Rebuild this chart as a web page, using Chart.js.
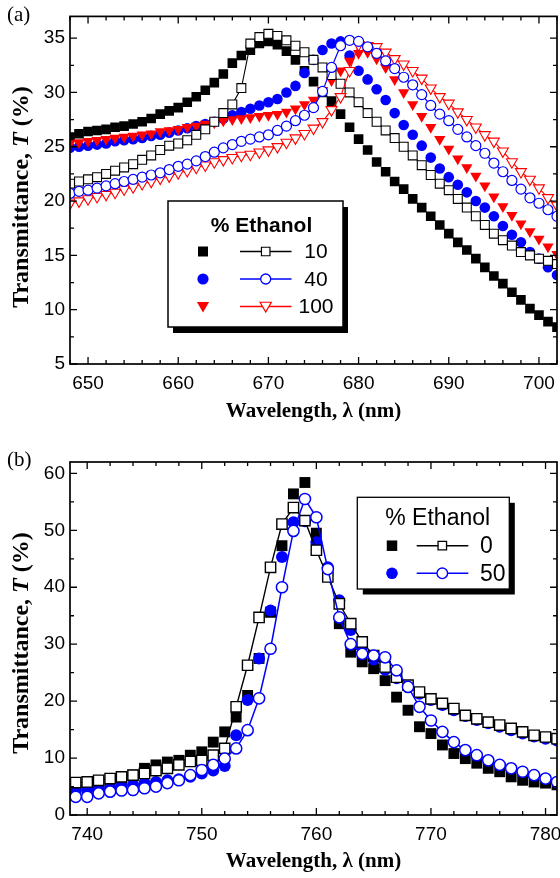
<!DOCTYPE html>
<html><head><meta charset="utf-8">
<script src="https://cdn.jsdelivr.net/npm/chart.js@4.4.1/dist/chart.umd.min.js"></script>
<style>
html,body{margin:0;padding:0;background:#fff;}
#wrap{position:relative;width:560px;height:878px;overflow:hidden;background:#fff;}
canvas{position:absolute;left:0;}
#ca{top:0;width:590px;height:430px;}
#cb{top:430px;width:590px;height:448px;}
</style></head><body>
<div id="wrap"><canvas id="ca" width="590" height="430"></canvas><canvas id="cb" width="590" height="448"></canvas></div>
<script>
// ---------- Panel (a) data ----------
const LAMBDA_A = [648,649,650,651,652,653,654,655,656,657,658,659,660,661,662,663,664,665,666,667,668,669,670,671,672,673,674,675,676,677,678,679,680,681,682,683,684,685,686,687,688,689,690,691,692,693,694,695,696,697,698,699,700,701,702];
const T_A_10_FILLED = [25.9,26.2,26.4,26.5,26.6,26.8,26.9,27.1,27.3,27.6,28.0,28.3,28.6,29.1,29.6,30.2,30.9,31.7,32.7,33.4,33.9,34.5,34.7,34.4,33.8,33.0,32.0,31.0,30.0,29.2,28.0,26.8,25.7,24.7,23.6,22.7,21.8,21.1,20.2,19.4,18.6,17.8,17.0,16.2,15.5,14.7,13.9,13.1,12.4,11.6,10.9,10.1,9.5,8.9,8.4];
const T_A_10_OPEN = [21.6,21.8,22.0,22.2,22.5,22.8,23.1,23.4,23.8,24.2,24.7,25.1,25.3,25.6,26.1,26.6,27.3,28.1,28.9,30.4,34.5,35.1,35.4,35.2,34.8,34.3,33.7,33.0,32.3,31.6,30.8,30.0,29.1,28.1,27.3,26.5,25.8,25.0,24.2,23.3,22.4,21.6,21.0,20.2,19.4,18.6,17.8,17.0,16.4,15.9,15.3,15.0,14.7,14.5,14.2];
const T_A_40_FILLED = [24.9,25.0,25.1,25.2,25.3,25.5,25.6,25.7,25.8,26.0,26.1,26.3,26.5,26.7,26.9,27.1,27.3,27.6,27.9,28.2,28.5,28.8,29.1,29.4,30.0,30.6,31.8,33.0,33.9,34.5,34.7,33.4,32.0,31.2,30.3,29.3,28.1,27.0,26.1,25.1,24.0,23.0,22.2,21.5,20.8,20.0,19.4,18.6,17.7,16.9,16.2,15.3,14.7,13.9,13.2];
const T_A_40_OPEN = [20.7,20.9,21.0,21.2,21.4,21.6,21.8,22.0,22.2,22.4,22.6,22.9,23.2,23.4,23.7,24.1,24.5,24.9,25.2,25.5,25.7,25.9,26.1,26.5,26.9,27.4,27.9,28.6,30.1,32.3,34.3,34.8,34.7,34.2,33.6,32.9,32.2,31.4,30.7,29.8,28.8,28.0,27.4,26.6,25.9,25.1,24.4,23.5,22.7,21.9,21.1,20.3,19.8,19.2,18.6];
const T_A_100_FILLED = [25.3,25.4,25.5,25.6,25.7,25.8,25.9,26.0,26.1,26.2,26.4,26.5,26.6,26.8,26.9,27.1,27.2,27.4,27.5,27.6,27.7,27.8,27.9,28.0,28.2,28.5,28.9,29.3,30.2,31.1,32.0,32.9,33.6,33.7,33.1,32.3,31.2,30.0,28.9,27.8,26.8,25.7,24.8,23.9,23.1,22.3,21.4,20.4,19.5,18.7,17.9,17.2,16.5,15.8,15.1];
const T_A_100_OPEN = [19.8,20.0,20.2,20.4,20.6,20.8,21.1,21.3,21.6,21.8,22.1,22.3,22.6,22.8,23.1,23.3,23.6,23.8,24.0,24.2,24.3,24.5,24.7,25.0,25.4,25.8,26.2,26.7,27.3,28.4,29.6,32.0,34.4,34.3,34.2,33.7,33.1,32.6,32.0,31.3,30.4,29.6,29.0,28.2,27.5,26.8,26.1,25.5,24.6,23.6,22.7,22.0,21.2,20.3,19.6];
const X_TICKS_A = [650,660,670,680,690,700];
const Y_TICKS_A = [5,10,15,20,25,30,35];
const LEGEND_A_TITLE = '% Ethanol';
const LEGEND_A_LABELS = ['10','40','100'];

// ---------- Panel (b) data ----------
const LAMBDA_B = [739,740,741,742,743,744,745,746,747,748,749,750,751,752,753,754,755,756,757,758,759,760,761,762,763,764,765,766,767,768,769,770,771,772,773,774,775,776,777,778,779,780,781];
const T_B_0_FILLED = [4.4,4.6,4.8,5.2,5.9,7.0,8.2,8.8,9.3,9.6,10.5,11.1,12.8,14.6,17.2,21.0,27.5,35.6,47.3,56.4,58.4,49.5,42.9,33.6,28.6,26.9,25.7,23.6,20.7,18.4,15.5,14.3,12.3,10.8,9.9,9.1,8.2,7.6,6.7,6.1,5.8,5.6,5.3];
const T_B_0_OPEN = [5.7,5.8,6.1,6.4,6.7,7.0,7.3,7.8,8.2,8.8,9.4,9.6,10.5,11.7,19.0,26.3,34.7,43.5,51.1,54.0,51.7,46.5,41.8,37.1,33.6,30.4,28.0,26.0,24.2,22.8,21.6,20.4,19.6,18.7,17.5,16.9,16.3,15.8,15.2,14.6,14.0,13.7,13.4];
const T_B_50_FILLED = [4.4,4.5,4.6,4.8,5.0,5.3,5.6,5.8,6.1,6.3,6.7,7.3,7.8,8.6,14.0,20.2,27.5,35.9,45.3,51.4,51.6,47.9,43.5,37.7,32.5,29.5,27.3,25.5,24.0,22.5,21.3,20.2,19.3,18.4,17.4,16.7,16.1,15.5,14.9,14.3,13.8,13.4,13.1];
const T_B_50_OPEN = [3.2,3.2,3.8,4.1,4.3,4.4,4.7,5.0,5.6,6.1,7.0,7.9,8.8,9.9,11.7,14.9,20.5,29.2,40.0,49.9,55.5,52.3,43.2,34.7,30.0,28.3,28.0,27.7,25.4,22.5,19.0,16.6,14.6,12.8,11.4,10.5,9.6,8.8,8.2,7.6,7.0,6.4,5.8];
const X_TICKS_B = [740,750,760,770,780];
const Y_TICKS_B = [0,10,20,30,40,50,60];
const LEGEND_B_TITLE = '% Ethanol';
const LEGEND_B_LABELS = ['0','50'];

const Y_TITLE_PARTS = ['Transmittance, ', 'T', ' (%)'];
const X_TITLE = 'Wavelength, \u03bb (nm)';

// ---------- helpers ----------
const BLUE = '#0000ff', RED = '#ff0000', BLACK = '#000000';
const SERIF = '"Liberation Serif", "Times New Roman", serif';
const SANS = '"Liberation Sans", Arial, sans-serif';
function pts(xs, ys){ return xs.map((x,i)=>({x:x, y:ys[i]})); }
function minorList(a, b, step){ const r=[]; for(let v=a; v<=b+1e-9; v+=step) r.push(Math.round(v*100)/100); return r; }

function mSquare(ctx,x,y,s,fill,stroke,lw){ ctx.beginPath(); ctx.rect(x-s/2,y-s/2,s,s); if(fill){ctx.fillStyle=fill;ctx.fill();} if(stroke){ctx.strokeStyle=stroke;ctx.lineWidth=lw;ctx.stroke();} }
function mCircle(ctx,x,y,r,fill,stroke,lw){ ctx.beginPath(); ctx.arc(x,y,r,0,Math.PI*2); if(fill){ctx.fillStyle=fill;ctx.fill();} if(stroke){ctx.strokeStyle=stroke;ctx.lineWidth=lw;ctx.stroke();} }
function mTriDown(ctx,x,y,r,fill,stroke,lw){ ctx.beginPath(); for(let k=0;k<3;k++){ const a=Math.PI+k*2*Math.PI/3; const px=x+Math.sin(a)*r, py=y-Math.cos(a)*r; if(k===0)ctx.moveTo(px,py); else ctx.lineTo(px,py);} ctx.closePath(); if(fill){ctx.fillStyle=fill;ctx.fill();} if(stroke){ctx.strokeStyle=stroke;ctx.lineWidth=lw;ctx.stroke();} }

function drawYTitle(ctx, bx, cy){
  ctx.save(); ctx.translate(bx, cy); ctx.rotate(-Math.PI/2);
  const fonts = ['bold 24px '+SERIF, 'italic bold 24px '+SERIF, 'bold 24px '+SERIF];
  let total = 0;
  Y_TITLE_PARTS.forEach((t,i)=>{ ctx.font=fonts[i]; total += ctx.measureText(t).width; });
  let x = -total/2;
  ctx.fillStyle='#000'; ctx.textAlign='left'; ctx.textBaseline='alphabetic';
  Y_TITLE_PARTS.forEach((t,i)=>{ ctx.font=fonts[i]; ctx.fillText(t, x, 0); x += ctx.measureText(t).width; });
  ctx.restore();
}

const frameTicks = {
  id:'frameTicks',
  afterDatasetsDraw(chart, args, o){
    const ctx = chart.ctx, ca = chart.chartArea, xs = chart.scales.x, ys = chart.scales.y;
    ctx.save();
    ctx.strokeStyle = '#000'; ctx.lineWidth = 1.3;
    ctx.beginPath();
    o.xMinor.forEach(v=>{ if(v<xs.min||v>xs.max) return; const len = o.xMajor.includes(v)?7:4; const p=xs.getPixelForValue(v);
      ctx.moveTo(p,ca.bottom); ctx.lineTo(p,ca.bottom-len); ctx.moveTo(p,ca.top); ctx.lineTo(p,ca.top+len); });
    o.yMinor.forEach(v=>{ if(v<ys.min||v>ys.max) return; const len = o.yMajor.includes(v)?7:4; const p=ys.getPixelForValue(v);
      ctx.moveTo(ca.left,p); ctx.lineTo(ca.left+len,p); ctx.moveTo(ca.right,p); ctx.lineTo(ca.right-len,p); });
    ctx.stroke();
    ctx.lineWidth = 1.7;
    ctx.strokeRect(ca.left, ca.top, ca.right-ca.left, ca.bottom-ca.top);
    ctx.restore();
  },
  afterDraw(chart, args, o){
    const ctx = chart.ctx;
    ctx.save();
    ctx.fillStyle='#000'; ctx.font='21px '+SERIF;
    ctx.textAlign='left'; ctx.textBaseline='middle';
    ctx.fillText(o.panel, 7, o.panelY);
    drawYTitle(ctx, 28, o.yTitleY);
    if (o.legend) o.legend(ctx);
    ctx.restore();
  }
};

function drawLegendA(ctx){
  const L=168, T=201, W=175, H=126;
  ctx.fillStyle='#000'; ctx.fillRect(L+5, T+6, W, H);
  ctx.fillStyle='#fff'; ctx.fillRect(L, T, W, H);
  ctx.strokeStyle='#000'; ctx.lineWidth=1.5; ctx.strokeRect(L, T, W, H);
  ctx.fillStyle='#000'; ctx.font='bold 21px '+SANS;
  ctx.textAlign='center'; ctx.textBaseline='alphabetic';
  ctx.fillText(LEGEND_A_TITLE, 261.5, 231.5);
  const rows=[251.5,279,306.5], cols=[BLACK,BLUE,RED];
  rows.forEach((ry,i)=>{
    ctx.strokeStyle=cols[i]; ctx.lineWidth=1.3; ctx.beginPath(); ctx.moveTo(240,ry); ctx.lineTo(291.5,ry); ctx.stroke();
    if(i===0){ mSquare(ctx,203,ry,10,BLACK,null,0); mSquare(ctx,265.7,ry,8.5,'#fff',BLACK,1.2); }
    if(i===1){ mCircle(ctx,203,ry,5.6,BLUE,null,0); mCircle(ctx,265.7,ry,5,'#fff',BLUE,1.3); }
    if(i===2){ mTriDown(ctx,203,ry-1,7,RED,null,0); mTriDown(ctx,265.7,ry-1,6.5,'#fff',RED,1.2); }
    ctx.fillStyle='#000'; ctx.font='21px '+SANS;
    ctx.textAlign='center'; ctx.textBaseline='middle';
    ctx.fillText(LEGEND_A_LABELS[i], 316, ry+1);
  });
}
function drawLegendB(ctx){
  const L=357.3, T=67.3, W=152, H=91.7;
  ctx.fillStyle='#000'; ctx.fillRect(L+5.5, T+5.5, W, H);
  ctx.fillStyle='#fff'; ctx.fillRect(L, T, W, H);
  ctx.strokeStyle='#000'; ctx.lineWidth=1.3; ctx.strokeRect(L, T, W, H);
  ctx.fillStyle='#000'; ctx.font='23px '+SANS;
  ctx.textAlign='center'; ctx.textBaseline='alphabetic';
  ctx.fillText(LEGEND_B_TITLE, 437.7, 95);
  const rows=[115.7,143.3], cols=[BLACK,BLUE];
  rows.forEach((ry,i)=>{
    ctx.strokeStyle=cols[i]; ctx.lineWidth=1.5; ctx.beginPath(); ctx.moveTo(416.7,ry); ctx.lineTo(468.3,ry); ctx.stroke();
    if(i===0){ mSquare(ctx,392,ry,10.5,BLACK,null,0); mSquare(ctx,442.3,ry,8.5,'#fff',BLACK,1.3); }
    if(i===1){ mCircle(ctx,392,ry,5.8,BLUE,null,0); mCircle(ctx,442.3,ry,5.3,'#fff',BLUE,1.4); }
    ctx.fillStyle='#000'; ctx.font='23px '+SANS;
    ctx.textAlign='left'; ctx.textBaseline='middle';
    ctx.fillText(LEGEND_B_LABELS[i], 480, ry+1);
  });
}

function makeScales(xmin,xmax,ymin,ymax,xt,yt,xH,yW,xTitlePad){
  const tickFont={family:SANS, size:19};
  const titleFont={family:SERIF, size:21, weight:'bold'};
  return {
    x:{type:'linear', min:xmin, max:xmax,
       afterBuildTicks:s=>{ s.ticks = xt.map(v=>({value:v})); },
       afterFit:s=>{ s.height = xH; },
       grid:{display:false, drawTicks:false}, border:{display:false},
       ticks:{font:tickFont, color:'#000', padding:8, maxRotation:0, autoSkip:false, callback:v=>String(v)},
       title:{display:true, text:X_TITLE, font:titleFont, color:'#000', padding:{top:0,bottom:xTitlePad}}},
    y:{type:'linear', min:ymin, max:ymax,
       afterBuildTicks:s=>{ s.ticks = yt.map(v=>({value:v})); },
       afterFit:s=>{ s.width = yW; },
       grid:{display:false, drawTicks:false}, border:{display:false},
       ticks:{font:tickFont, color:'#000', padding:5, autoSkip:false, callback:v=>String(v)},
       title:{display:false}}
  };
}

function ds(label, xs, ys, style, r, fill, col, line, order, rot, bw){
  return {label, data:pts(xs,ys), showLine:line, borderColor:col, borderWidth:line?(bw||1.1):0,
    pointStyle:style, pointRadius:r, pointHoverRadius:r, pointRotation:rot||0,
    pointBackgroundColor:fill, pointBorderColor:col, pointBorderWidth: fill===col?0:(bw||1.1),
    backgroundColor:fill, fill:false, tension:0, order, clip:0};
}

Chart.defaults.font.family=SANS;

// canvases are 590 wide (page clips at 560) so the plot's right edge sits at x=557
new Chart(document.getElementById('ca'), {
  type:'scatter',
  data:{datasets:[
    ds('10 filled', LAMBDA_A, T_A_10_FILLED, 'rect', 6.8, BLACK, BLACK, false, 6),
    ds('40 filled', LAMBDA_A, T_A_40_FILLED, 'circle', 5.3, BLUE, BLUE, false, 5),
    ds('100 filled', LAMBDA_A, T_A_100_FILLED, 'triangle', 6.5, RED, RED, false, 4, 180),
    ds('10 open', LAMBDA_A, T_A_10_OPEN, 'rect', 6.3, '#ffffff', BLACK, true, 3, 0, 1.1),
    ds('100 open', LAMBDA_A, T_A_100_OPEN, 'triangle', 6.3, '#ffffff', RED, true, 2, 180, 1.1),
    ds('40 open', LAMBDA_A, T_A_40_OPEN, 'circle', 5.0, '#ffffff', BLUE, true, 1, 0, 1.2)
  ]},
  options:{responsive:false, animation:false, devicePixelRatio:1,
    layout:{padding:{left:0,right:33,top:14,bottom:0}},
    scales:makeScales(648,702,5,37,X_TICKS_A,Y_TICKS_A,66,70,6),
    plugins:{legend:{display:false}, tooltip:{enabled:false},
      frameTicks:{xMajor:X_TICKS_A, xMinor:minorList(648,702,2), yMajor:Y_TICKS_A, yMinor:minorList(5,37,2.5), panel:'(a)', panelY:15, yTitleY:197, legend:drawLegendA}}},
  plugins:[frameTicks]
});

new Chart(document.getElementById('cb'), {
  type:'scatter',
  data:{datasets:[
    ds('0 filled', LAMBDA_B, T_B_0_FILLED, 'rect', 7.7, BLACK, BLACK, false, 4),
    ds('50 filled', LAMBDA_B, T_B_50_FILLED, 'circle', 6.0, BLUE, BLUE, false, 3),
    ds('0 open', LAMBDA_B, T_B_0_OPEN, 'rect', 7.3, '#ffffff', BLACK, true, 2, 0, 1.4),
    ds('50 open', LAMBDA_B, T_B_50_OPEN, 'circle', 5.6, '#ffffff', BLUE, true, 1, 0, 1.5)
  ]},
  options:{responsive:false, animation:false, devicePixelRatio:1,
    layout:{padding:{left:0,right:33,top:32,bottom:0}},
    scales:makeScales(738.5,781,0,62,X_TICKS_B,Y_TICKS_B,63,70,4),
    plugins:{legend:{display:false}, tooltip:{enabled:false},
      frameTicks:{xMajor:X_TICKS_B, xMinor:minorList(740,780,2), yMajor:Y_TICKS_B, yMinor:minorList(0,60,5), panel:'(b)', panelY:30, yTitleY:213, legend:drawLegendB}}},
  plugins:[frameTicks]
});
</script>
</body></html>
